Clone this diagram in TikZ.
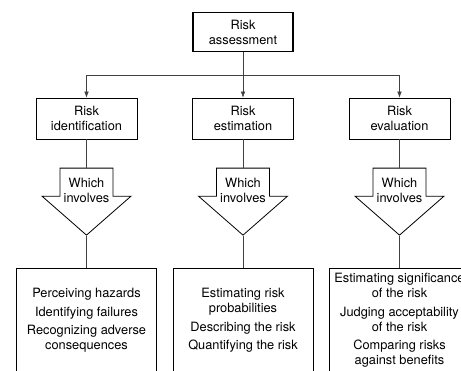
\documentclass[tikz,border=0pt]{standalone}
\usepackage{fontspec}
\setmainfont{TeX Gyre Heros}
\usetikzlibrary{positioning,shapes.arrows,arrows.meta}

\begin{document}
\begin{tikzpicture}
[
  x=1pt, y=1pt,
  box/.style={rectangle, draw, line width=0.8pt, align=center, minimum width=101pt, minimum height=41pt, inner sep=2pt},
  topbox/.style={box, line width=1.8pt, minimum width=100pt, minimum height=39pt},
  listbox/.style={box, minimum width=140pt, minimum height=105pt},
  involves/.style={shape=single arrow, shape border rotate=270, draw, line width=0.8pt, align=center,
    single arrow head extend=17pt, single arrow tip angle=97.6, minimum width=89pt, minimum height=67pt, inner sep=2pt},
  link/.style={line width=0.5pt, black!75},
  >={Latex[length=6pt,width=4.5pt]},
  on grid,
  font=\fontsize{12.8}{15}\selectfont
]
 \useasboundingbox (0,0) rectangle (461,-371);
 \node[topbox] (assess) at (243,-32) {Risk\\assessment};
 \node[box] (ident) [below left=86.5pt and 156.5pt of assess] {Risk\\identification};
 \node[box] (estim) [below=86.5pt of assess] {Risk\\estimation};
 \node[box] (evalu) [below right=86.5pt and 156.5pt of assess] {Risk\\evaluation};
 \coordinate[below=43pt of assess] (split);

 \node[involves] (inv1) [below=71.5pt of ident] {Which\\involves};
 \node[involves] (inv2) [below=71.5pt of estim] {Which\\involves};
 \node[involves] (inv3) [below=71.5pt of evalu] {Which\\involves};

 \node[listbox] (idlist) [below=202pt of ident] {Perceiving hazards\\[3.5pt] Identifying failures\\[3.5pt] Recognizing adverse\\consequences};
 \node[listbox] (eslist) [below=202pt of estim] {Estimating risk\\probabilities\\[3.5pt] Describing the risk\\[3.5pt] Quantifying the risk};
 \node[listbox] (evlist) [below=202pt of evalu] {Estimating significance\\of the risk\\[3.5pt] Judging acceptability\\of the risk\\[3.5pt] Comparing risks\\against benefits};

 \draw[link] (assess) -- (split);
 \draw[link,->] (split) -| (ident);
 \draw[link,->] (split) -- (estim);
 \draw[link,->] (split) -| (evalu);

 \draw[link] (ident) -- (inv1.tail);
 \draw[link] (estim) -- (inv2.tail);
 \draw[link] (evalu) -- (inv3.tail);
 \draw[link] (inv1.tip) -- (idlist);
 \draw[link] (inv2.tip) -- (eslist);
 \draw[link] (inv3.tip) -- (evlist);
\end{tikzpicture}
\end{document}
